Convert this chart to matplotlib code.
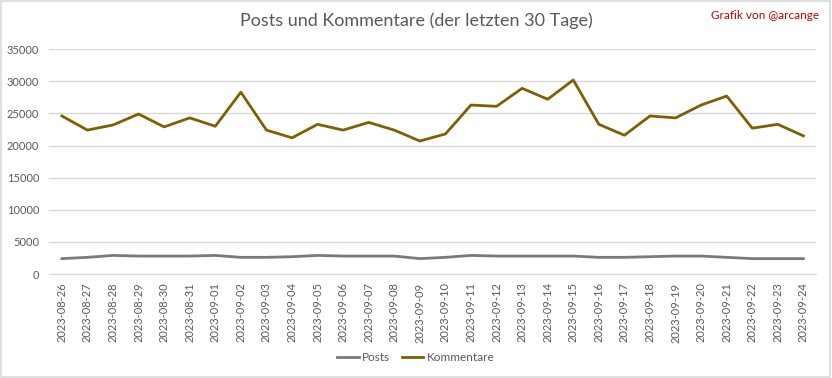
import matplotlib
matplotlib.use("Agg")
import matplotlib.pyplot as plt
from matplotlib.patches import Rectangle

dates = ["2023-08-26", "2023-08-27", "2023-08-28", "2023-08-29", "2023-08-30", "2023-08-31",
         "2023-09-01", "2023-09-02", "2023-09-03", "2023-09-04", "2023-09-05", "2023-09-06",
         "2023-09-07", "2023-09-08", "2023-09-09", "2023-09-10", "2023-09-11", "2023-09-12",
         "2023-09-13", "2023-09-14", "2023-09-15", "2023-09-16", "2023-09-17", "2023-09-18",
         "2023-09-19", "2023-09-20", "2023-09-21", "2023-09-22", "2023-09-23", "2023-09-24"]
posts = [2400, 2600, 2900, 2800, 2800, 2800, 2900, 2600, 2600, 2700, 2900, 2800,
         2800, 2800, 2400, 2600, 2900, 2800, 2800, 2800, 2800, 2600, 2600, 2700,
         2800, 2800, 2600, 2400, 2400, 2400]
kommentare = [24600, 22400, 23200, 24900, 22900, 24300, 23000, 28300, 22400, 21200, 23300, 22400,
              23600, 22400, 20700, 21800, 26300, 26100, 28900, 27200, 30200, 23300, 21600, 24600,
              24300, 26300, 27700, 22700, 23300, 21500]
yticks = [0, 5000, 10000, 15000, 20000, 25000, 30000, 35000]

plt.rcParams['font.family'] = ['Lato', 'DejaVu Sans']

fig = plt.figure(figsize=(8.32, 3.78), dpi=100)
fig.patches.append(Rectangle((0.001, 0.002), 0.997, 0.995, transform=fig.transFigure,
                             fill=False, edgecolor="#d9d9d9", linewidth=1.2))
ax = fig.add_axes([0.059, 0.275, 0.922, 0.595])
x = list(range(len(dates)))
ax.plot(x, posts, color="#7a7a7a", linewidth=2.0, label="Posts")
ax.plot(x, kommentare, color="#7f6000", linewidth=2.0, label="Kommentare")
ax.set_xlim(-0.5, len(dates) - 0.5)
ax.set_ylim(0, 35000)
ax.set_yticks(yticks)
ax.set_yticklabels([str(v) for v in yticks])
ax.set_xticks(x)
ax.set_xticklabels(dates, rotation=90)
ax.tick_params(axis='both', length=0, labelsize=8, colors="#595959")
ax.tick_params(axis='y', pad=7)
ax.tick_params(axis='x', pad=6)
ax.grid(axis='y', color="#d9d9d9", linewidth=1)
ax.set_axisbelow(True)
for s in ["top", "right", "left"]:
    ax.spines[s].set_visible(False)
ax.spines["bottom"].set_color("#d9d9d9")

fig.text(0.5, 0.945, "Posts und Kommentare (der letzten 30 Tage)", ha="center", va="center",
         fontsize=13, color="#595959")
fig.text(0.985, 0.96, "Grafik von @arcange", ha="right", va="center", fontsize=8.5, color="#c00000")

fig.legend(loc="center", bbox_to_anchor=(0.5, 0.055), ncol=2, frameon=False, fontsize=8.5,
           labelcolor="#595959", handlelength=1.8, columnspacing=1.0, handletextpad=0.3)

fig.savefig("out.png", dpi=100)
